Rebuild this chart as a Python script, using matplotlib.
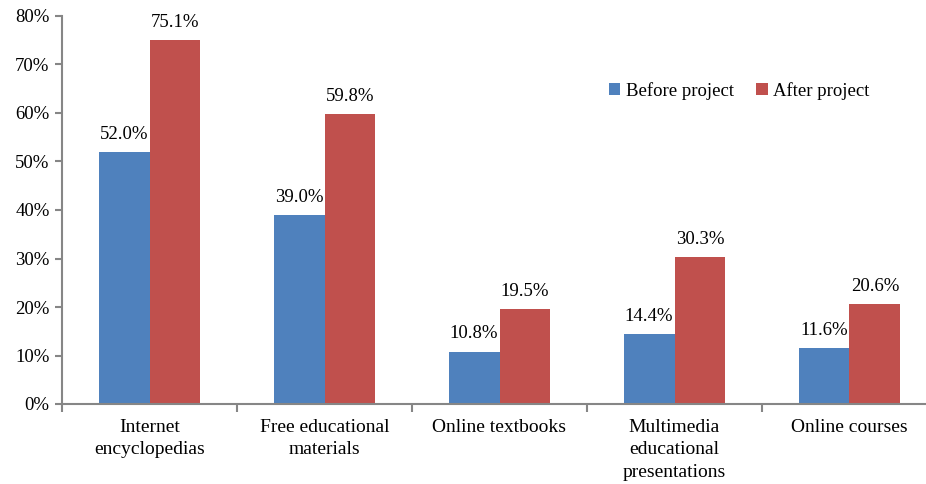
import numpy as np
import matplotlib.pyplot as plt
from matplotlib.ticker import FuncFormatter

# data
categories = ['Internet\nencyclopedias', 'Free educational\nmaterials', 'Online textbooks',
              'Multimedia\neducational\npresentations', 'Online courses']
before = [52.0, 39.0, 10.8, 14.4, 11.6]
after = [75.1, 59.8, 19.5, 30.3, 20.6]

plt.rcParams['font.family'] = ['Liberation Serif', 'DejaVu Serif']

fig = plt.figure(figsize=(9.26, 4.84), dpi=100)
ax = fig.add_axes([62/926, 1-404/484, 1-62/926, (404-16)/484])

x = np.arange(len(categories))
w = 0.29
b1 = ax.bar(x - w/2, before, w, color='#4f81bd', label='Before project')
b2 = ax.bar(x + w/2, after, w, color='#c0504d', label='After project')

for rects, vals in ((b1, before), (b2, after)):
    for r, v in zip(rects, vals):
        ax.text(r.get_x() + r.get_width()/2, v + 1.9, '%.1f%%' % v,
                ha='center', va='bottom', fontsize=13.5)

ax.set_ylim(0, 80)
ax.set_yticks(range(0, 81, 10))
ax.yaxis.set_major_formatter(FuncFormatter(lambda v, p: '%d%%' % v))
ax.set_xlim(-0.5, 4.5 - 11/175)
ax.set_xticks(np.arange(-0.5, 4.5, 1.0))
ax.set_xticklabels([])
ax.set_xticks(x, minor=True)
ax.set_xticklabels(categories, minor=True, fontsize=14, linespacing=1.4)
ax.tick_params(axis='x', which='minor', length=0, pad=11)
ax.tick_params(axis='x', which='major', length=6, color='#868686', width=1.5)
ax.tick_params(axis='y', length=5, color='#868686', width=1.5, labelsize=13.5, pad=4)

for s in ['top', 'right']:
    ax.spines[s].set_visible(False)
for s in ['left', 'bottom']:
    ax.spines[s].set_color('#868686')
    ax.spines[s].set_linewidth(1.5)

ax.legend(loc='center left', bbox_to_anchor=(592/926, 1-91/484), bbox_transform=fig.transFigure,
          ncol=2, frameon=False, fontsize=13.5, handlelength=0.6, handleheight=0.6,
          handletextpad=0.3, columnspacing=1.2)

plt.savefig('out.png', dpi=100)
